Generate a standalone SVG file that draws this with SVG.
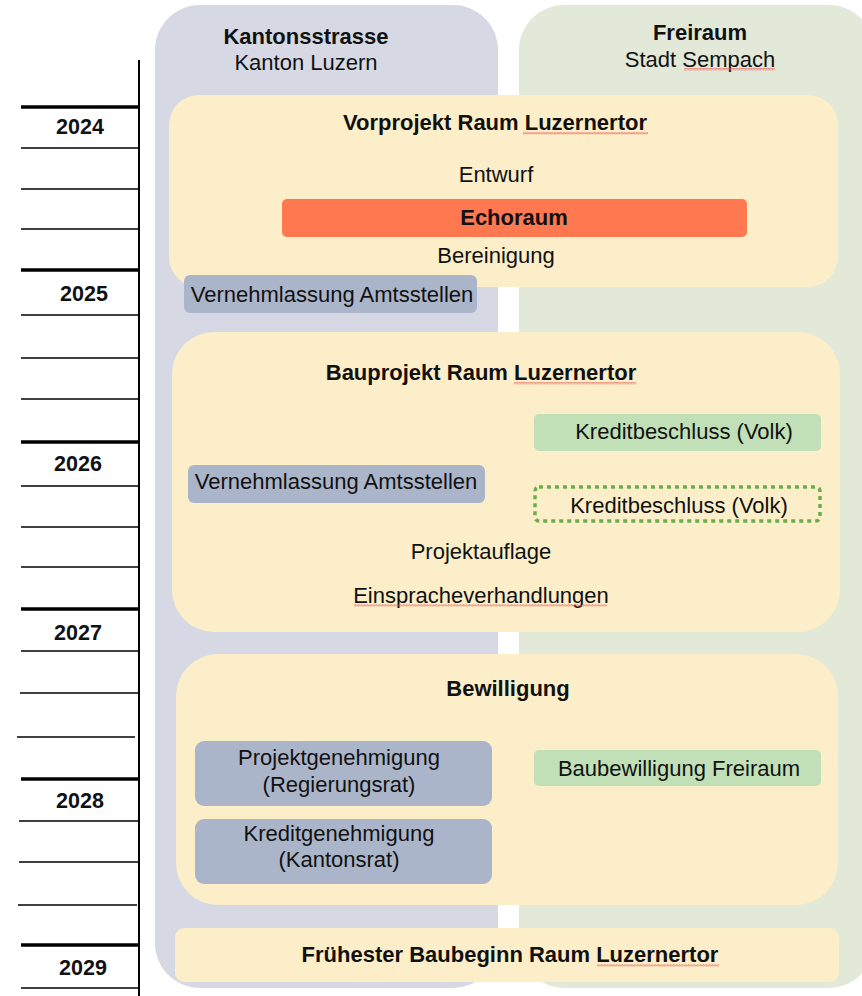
<svg xmlns="http://www.w3.org/2000/svg" width="862" height="996" viewBox="0 0 862 996">
<style>
text{font-family:"Liberation Sans",Arial,Helvetica,sans-serif;fill:#111;text-anchor:middle;font-size:22px}
.b{font-weight:bold}
.yr{font-weight:bold;font-size:21.5px}
.thick{stroke:#000;stroke-width:3.5}
.thin{stroke:#000;stroke-width:1.6}
.yel{fill:#fbeec9}
.blu{fill:#abb5c9}
.grn{fill:#c1e0b7}
</style>
<defs>
<pattern id="sq" x="0" y="0" width="3" height="2.4" patternUnits="userSpaceOnUse">
<path d="M0 2 L0.75 0.4 L1.5 2 L2.25 0.4 L3 2" fill="none" stroke="#e65a50" stroke-width="0.55"/>
</pattern>
</defs>
<rect width="862" height="996" fill="#fff"/>

<g id="col-kanton">
<rect x="155" y="5" width="343" height="983" rx="45" fill="#d6d9e3"/>
<text x="306" y="44" class="b">Kantonsstrasse</text>
<text x="306" y="70">Kanton Luzern</text>
</g>
<g id="col-freiraum">
<rect x="519" y="5" width="355" height="983" rx="45" fill="#e2e9d9"/>
<text x="700" y="40" class="b">Freiraum</text>
<text x="700" y="67">Stadt Sempach</text>
<rect x="684" y="68" width="91" height="2.4" fill="url(#sq)"/>
</g>

<g id="timeline">
<line x1="139" y1="60" x2="139" y2="996" stroke="#000" stroke-width="2"/>
<line class="thick" x1="21" y1="107" x2="139" y2="107"/>
<line class="thin" x1="21" y1="148" x2="139" y2="148"/>
<line class="thin" x1="21" y1="189" x2="139" y2="189"/>
<line class="thin" x1="21" y1="229" x2="139" y2="229"/>
<line class="thick" x1="21" y1="270" x2="139" y2="270"/>
<line class="thin" x1="21" y1="315" x2="139" y2="315"/>
<line class="thin" x1="21" y1="358" x2="139" y2="358"/>
<line class="thin" x1="21" y1="399" x2="139" y2="399"/>
<line class="thick" x1="21" y1="442" x2="139" y2="442"/>
<line class="thin" x1="21" y1="486" x2="139" y2="486"/>
<line class="thin" x1="21" y1="527" x2="139" y2="527"/>
<line class="thin" x1="21" y1="567" x2="139" y2="567"/>
<line class="thick" x1="21" y1="609" x2="139" y2="609"/>
<line class="thin" x1="21" y1="651" x2="139" y2="651"/>
<line class="thin" x1="20" y1="693" x2="139" y2="693"/>
<line class="thin" x1="17" y1="737" x2="135" y2="737"/>
<line class="thick" x1="21" y1="779" x2="139" y2="779"/>
<line class="thin" x1="19" y1="821" x2="139" y2="821"/>
<line class="thin" x1="19" y1="862" x2="139" y2="862"/>
<line class="thin" x1="18" y1="905" x2="137" y2="905"/>
<line class="thick" x1="21" y1="945" x2="139" y2="945"/>
<line class="thin" x1="21" y1="988" x2="139" y2="988"/>
<text class="yr" x="80" y="134">2024</text>
<text class="yr" x="84" y="301">2025</text>
<text class="yr" x="78" y="471">2026</text>
<text class="yr" x="78" y="640">2027</text>
<text class="yr" x="80" y="808">2028</text>
<text class="yr" x="83" y="975">2029</text>
</g>

<g id="vorprojekt">
<rect class="yel" x="169" y="95" width="669" height="192" rx="30"/>
<text x="495" y="130" class="b">Vorprojekt Raum Luzernertor</text>
<rect x="523" y="132" width="125" height="2.4" fill="url(#sq)"/>
<text x="496" y="182">Entwurf</text>
<text x="496" y="263">Bereinigung</text>
</g>
<g id="echoraum">
<rect x="282" y="199" width="465" height="38" rx="5" fill="#ff7850"/>
<text x="514" y="225" class="b">Echoraum</text>
</g>
<g id="vernehmlassung-2025">
<rect class="blu" x="184" y="275" width="293" height="38" rx="6"/>
<text x="332" y="302">Vernehmlassung Amtsstellen</text>
</g>

<g id="bauprojekt">
<rect class="yel" x="172" y="332" width="668" height="300" rx="42"/>
<text x="481" y="380" class="b">Bauprojekt Raum Luzernertor</text>
<rect x="514" y="382" width="122" height="2.4" fill="url(#sq)"/>
<text x="481" y="559">Projektauflage</text>
<text x="481" y="603">Einspracheverhandlungen</text>
<rect x="354" y="604" width="253" height="2.4" fill="url(#sq)"/>
</g>
<g id="kreditbeschluss-1">
<rect class="grn" x="534" y="414" width="287" height="37" rx="5"/>
<text x="684" y="439">Kreditbeschluss (Volk)</text>
</g>
<g id="vernehmlassung-2026">
<rect class="blu" x="188" y="465" width="297" height="38" rx="6"/>
<text x="336" y="489">Vernehmlassung Amtsstellen</text>
</g>
<g id="kreditbeschluss-2">
<rect x="535" y="487" width="285" height="34" rx="4" fill="none" stroke="#6aae4a" stroke-width="3.5" stroke-dasharray="4 4"/>
<text x="679" y="513">Kreditbeschluss (Volk)</text>
</g>

<g id="bewilligung">
<rect class="yel" x="176" y="654" width="662" height="251" rx="42"/>
<text x="508" y="696" class="b">Bewilligung</text>
</g>
<g id="projektgenehmigung">
<rect class="blu" x="195" y="741" width="297" height="65" rx="9"/>
<text x="339" y="765">Projektgenehmigung</text>
<text x="339" y="792">(Regierungsrat)</text>
</g>
<g id="kreditgenehmigung">
<rect class="blu" x="195" y="819" width="297" height="65" rx="9"/>
<text x="339" y="841">Kreditgenehmigung</text>
<text x="339" y="867">(Kantonsrat)</text>
</g>
<g id="baubewilligung-freiraum">
<rect class="grn" x="534" y="750" width="287" height="36" rx="5"/>
<text x="679" y="776">Baubewilligung Freiraum</text>
</g>

<g id="baubeginn">
<rect class="yel" x="175" y="928" width="664" height="54" rx="9"/>
<text x="510" y="962" class="b">Frühester Baubeginn Raum Luzernertor</text>
<rect x="597" y="964" width="122" height="2.4" fill="url(#sq)"/>
</g>

<g id="connectors"></g>
</svg>
